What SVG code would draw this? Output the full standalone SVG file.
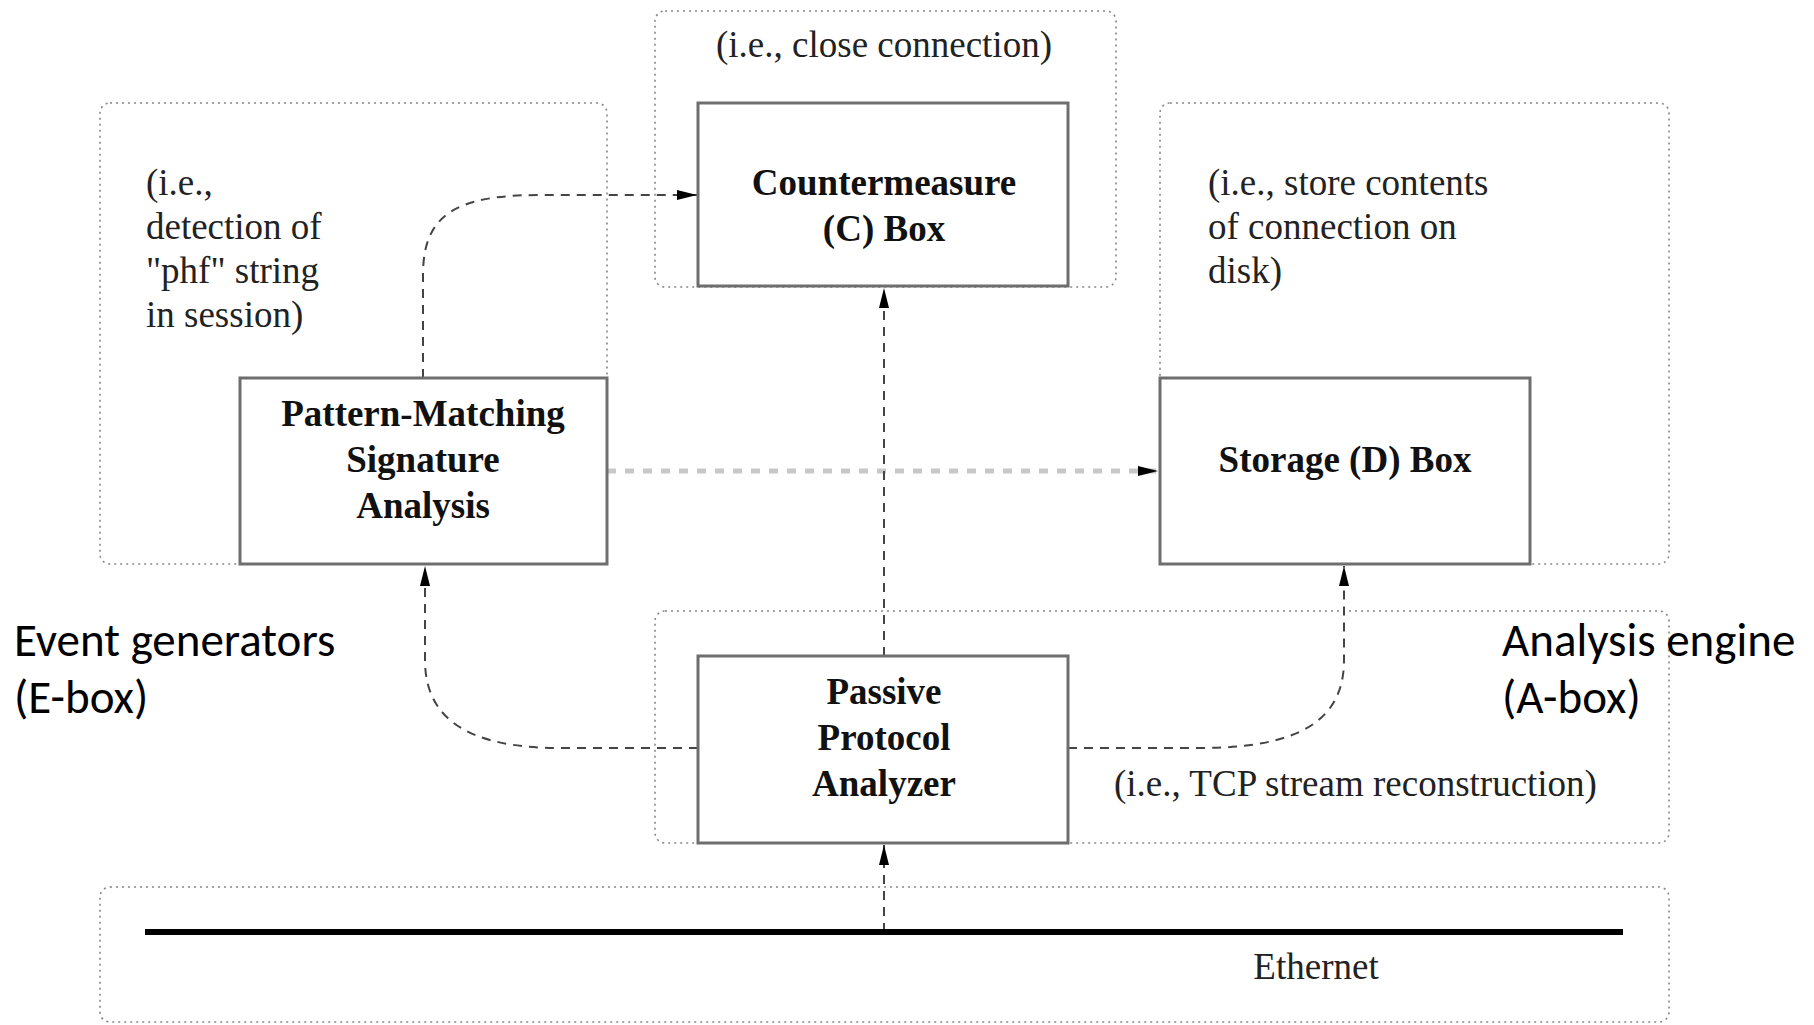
<svg xmlns="http://www.w3.org/2000/svg" width="1814" height="1025" viewBox="0 0 1814 1025">
<style>
.cont{fill:none;stroke:#888;stroke-width:1.6;stroke-dasharray:2 4}
.box{fill:#fff;stroke:#6e6e6e;stroke-width:3}
.t{font-family:"Liberation Serif","Times New Roman",serif;font-size:37px;fill:#222}
.b{font-family:"Liberation Serif","Times New Roman",serif;font-size:37px;font-weight:bold;fill:#111;text-anchor:middle}
.s{font-family:Carlito,"Liberation Sans",Arial,sans-serif;font-size:47px;fill:#000}
.c{fill:none;stroke:#444;stroke-width:2;stroke-dasharray:9 7}
.cl{fill:none;stroke:#c8c8c8;stroke-width:5;stroke-dasharray:9 9}
</style>
<defs>
<marker id="ah" viewBox="0 0 20 10" refX="20" refY="5" markerWidth="20" markerHeight="10" markerUnits="userSpaceOnUse" orient="auto">
<path d="M0,0 L20,5 L0,10 Z" fill="#000"/>
</marker>
</defs>
<rect width="1814" height="1025" fill="#fff"/>
<g id="containers">
<rect id="e-cont" class="cont" x="100" y="103" width="507" height="461" rx="10"/>
<rect id="c-cont" class="cont" x="655" y="11" width="461" height="276" rx="10"/>
<rect id="d-cont" class="cont" x="1160" y="103" width="509" height="461" rx="10"/>
<rect id="ppa-cont" class="cont" x="655" y="611" width="1014" height="232" rx="10"/>
<rect id="eth-cont" class="cont" x="100" y="887" width="1569" height="135" rx="10"/>
</g>
<g id="connectors">
<path class="c" d="M423,378 V275 C423,215 455,195 540,195 H697" marker-end="url(#ah)"/>
<path class="cl" d="M607,471 H1158" marker-end="url(#ah)"/>
<path class="c" d="M884,656 V288" marker-end="url(#ah)"/>
<path class="c" d="M698,748 H560 C470,748 425,720 425,660 V566" marker-end="url(#ah)"/>
<path class="c" d="M1068,748 H1200 C1300,748 1344,720 1344,660 V566" marker-end="url(#ah)"/>
<path class="c" d="M884,932 V845" marker-end="url(#ah)"/>
</g>
<g id="countermeasure">
<rect class="box" x="698" y="103" width="370" height="183"/>
<text class="b" x="884" y="195">Countermeasure</text>
<text class="b" x="884" y="241">(C) Box</text>
<text class="t" x="884" y="57" text-anchor="middle">(i.e., close connection)</text>
</g>
<g id="pattern">
<rect class="box" x="240" y="378" width="367" height="186"/>
<text class="b" x="423" y="426">Pattern-Matching</text>
<text class="b" x="423" y="472">Signature</text>
<text class="b" x="423" y="518">Analysis</text>
<text class="t" x="146" y="195">(i.e.,</text>
<text class="t" x="146" y="239">detection of</text>
<text class="t" x="146" y="283">"phf" string</text>
<text class="t" x="146" y="327">in session)</text>
</g>
<g id="storage">
<rect class="box" x="1160" y="378" width="370" height="186"/>
<text class="b" x="1345" y="472">Storage (D) Box</text>
<text class="t" x="1208" y="195">(i.e., store contents</text>
<text class="t" x="1208" y="239">of connection on</text>
<text class="t" x="1208" y="283">disk)</text>
</g>
<g id="ppa">
<rect class="box" x="698" y="656" width="370" height="187"/>
<text class="b" x="884" y="704">Passive</text>
<text class="b" x="884" y="750">Protocol</text>
<text class="b" x="884" y="796">Analyzer</text>
<text class="t" x="1114" y="796">(i.e., TCP stream reconstruction)</text>
</g>
<g id="ethernet">
<line x1="145" y1="932" x2="1623" y2="932" stroke="#000" stroke-width="6"/>
<text class="t" x="1316" y="979" text-anchor="middle">Ethernet</text>
</g>
<g id="labels">
<text class="s" x="14" y="656">Event generators</text>
<text class="s" x="14" y="713">(E-box)</text>
<text class="s" x="1502" y="656">Analysis engine</text>
<text class="s" x="1502" y="713">(A-box)</text>
</g>
</svg>
